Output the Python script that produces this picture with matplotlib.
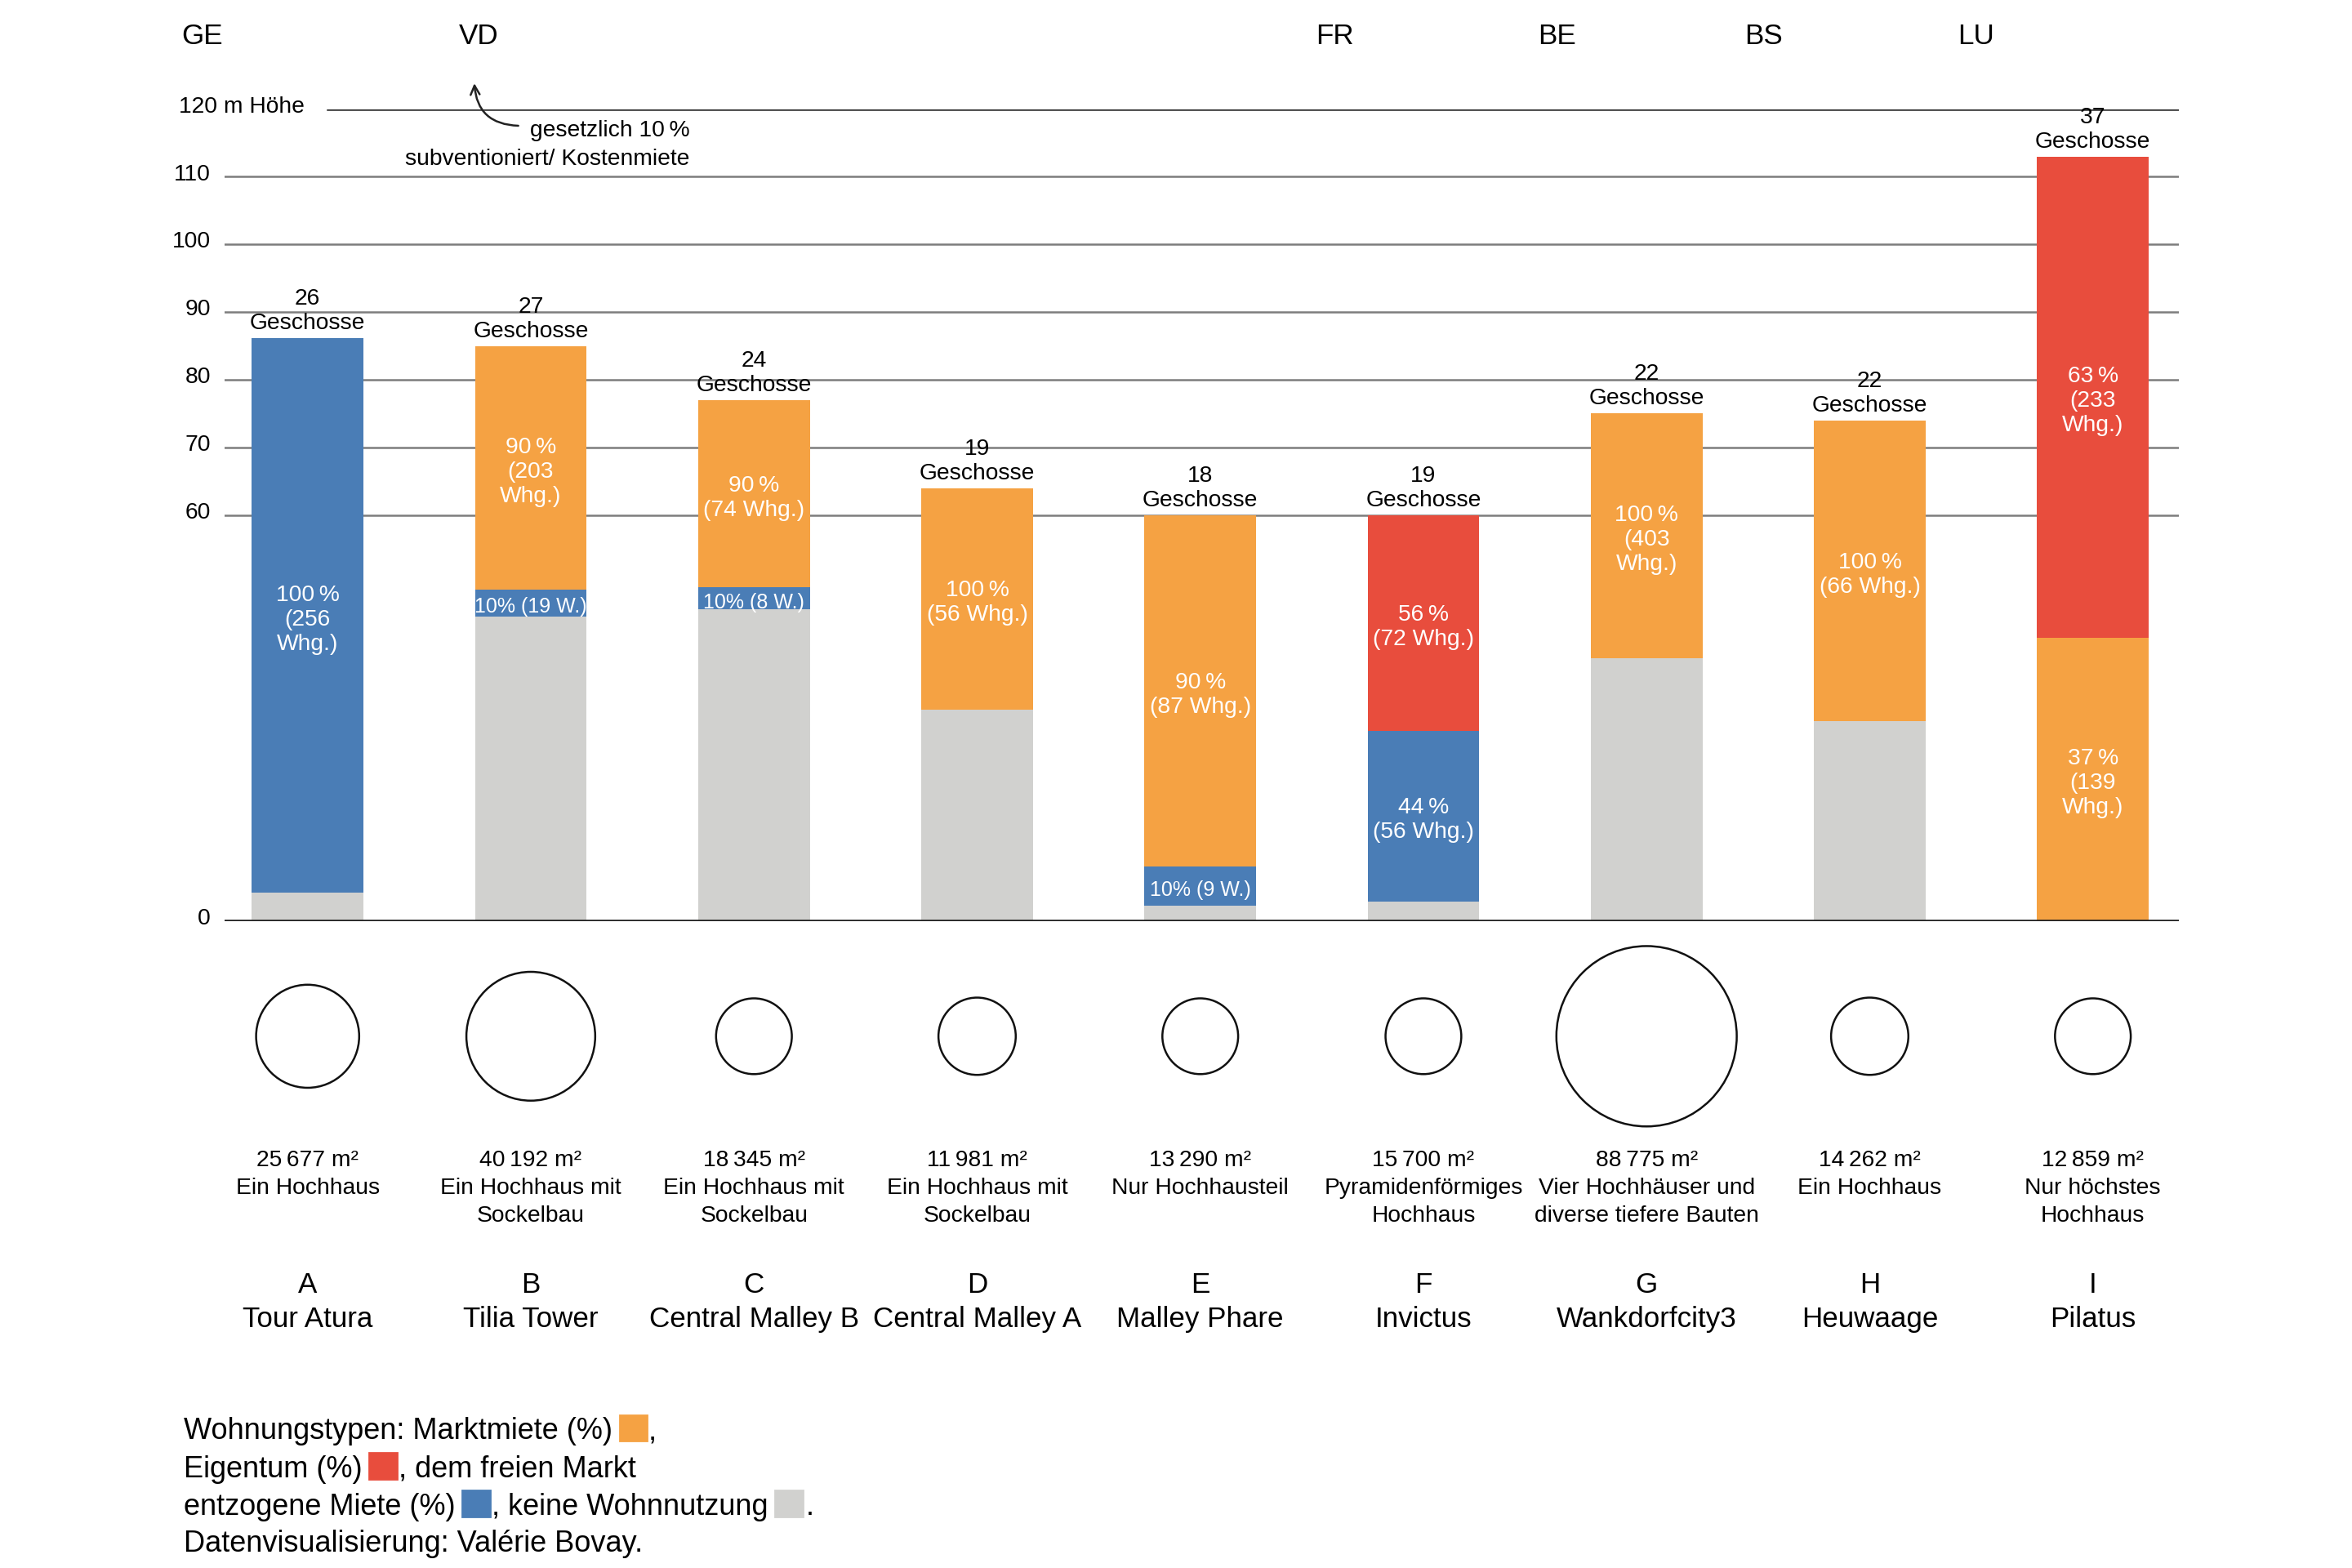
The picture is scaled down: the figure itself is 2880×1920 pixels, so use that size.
import numpy as np
import matplotlib
matplotlib.use("Agg")
import matplotlib.pyplot as plt
from matplotlib import font_manager
from matplotlib.patches import Rectangle
from matplotlib.transforms import blended_transform_factory

plt.rcParams['font.family'] = ['Liberation Sans', 'DejaVu Sans']

# --- data ---
codes = ["A", "B", "C", "D", "E", "F", "G", "H", "I"]
names = ["Tour Atura", "Tilia Tower", "Central Malley B", "Central Malley A",
         "Malley Phare", "Invictus", "Wankdorfcity3", "Heuwaage", "Pilatus"]
geschosse = [26, 27, 24, 19, 18, 19, 22, 22, 37]
flaeche = [25677, 40192, 18345, 11981, 13290, 15700, 88775, 14262, 12859]
beschrieb = ["Ein Hochhaus", "Ein Hochhaus mit\nSockelbau", "Ein Hochhaus mit\nSockelbau",
             "Ein Hochhaus mit\nSockelbau", "Nur Hochhausteil", "Pyramidenförmiges\nHochhaus",
             "Vier Hochhäuser und\ndiverse tiefere Bauten", "Ein Hochhaus", "Nur höchstes\nHochhaus"]
# relative circle diameters as drawn
kreis = [68, 85, 50, 51, 50, 50, 119, 51, 50]

# stacked heights in m: keine Wohnnutzung, entzogene Miete, Marktmiete, Eigentum
grau = [4.2, 45.0, 46.1, 31.3, 2.3, 2.9, 38.9, 29.5, 0]
blau = [81.9, 4.0, 3.2, 0, 5.8, 25.2, 0, 0, 0]
orange = [0, 36.0, 27.7, 32.7, 51.9, 0, 36.1, 44.5, 41.9]
rot = [0, 0, 0, 0, 0, 31.9, 0, 0, 71.1]

blau_lbl = ["100\u2009%\n(256\nWhg.)", "10% (19 W.)", "10% (8 W.)", None, "10% (9 W.)",
            "44\u2009%\n(56 Whg.)", None, None, None]
orange_lbl = [None, "90\u2009%\n(203\nWhg.)", "90\u2009%\n(74 Whg.)", "100\u2009%\n(56 Whg.)",
              "90\u2009%\n(87 Whg.)", None, "100\u2009%\n(403\nWhg.)", "100\u2009%\n(66 Whg.)",
              "37\u2009%\n(139\nWhg.)"]
rot_lbl = [None, None, None, None, None, "56\u2009%\n(72 Whg.)", None, None, "63\u2009%\n(233\nWhg.)"]

kantone = ["GE", "VD", "FR", "BE", "BS", "LU"]
yticks = [0, 60, 70, 80, 90, 100, 110]

C_GRAU = '#D1D1CF'
C_BLAU = '#4A7DB6'
C_ORANGE = '#F5A243'
C_ROT = '#E84D3D'

# narrow face for the tight one-line labels, if there is one
have_narrow = any(f.name == 'Liberation Sans Narrow' for f in font_manager.fontManager.ttflist)
NARROW = ['Liberation Sans Narrow', 'Liberation Sans', 'DejaVu Sans'] if have_narrow \
    else ['Liberation Sans', 'DejaVu Sans']

# layout helpers (reference frame 1552 x 1035)
W, H = 1552.0, 1035.0
def fx(x):
    return x / W
def fy(y):
    return 1 - y / H

fig = plt.figure(figsize=(14.4, 9.6), dpi=200)
ax = fig.add_axes([fx(148), fy(608), fx(1438) - fx(148), fy(72) - fy(608)])
ax.set_xlim(-0.3735, 8.387)
ax.set_ylim(0, 120)
ax.axis('off')

x = np.arange(len(codes))
SMALL = 10.2
BIG = 12.6

# gridlines
for t in yticks[1:]:
    ax.axhline(t, color='#7d7d7d', lw=0.9, zorder=0)
ax.axhline(120, xmin=(216 - 148) / (1438 - 148), color='#2a2a2a', lw=0.9, zorder=0)
ax.axhline(0, color='#222222', lw=1.3, zorder=4)

ytrans = blended_transform_factory(fig.transFigure, ax.transData)
for t in yticks:
    ax.annotate(str(t), (fx(139), t), xycoords=ytrans, xytext=(0, -1.5),
                textcoords='offset points', ha='right', va='baseline', fontsize=SMALL)
ax.annotate("120 m Höhe", (fx(118), 120), xycoords=ytrans, xytext=(0, -1.5),
            textcoords='offset points', ha='left', va='baseline', fontsize=SMALL)

# stacked bars
bw = 0.5
bottom = np.zeros(len(codes))
for vals, col, lbls in [(grau, C_GRAU, None), (blau, C_BLAU, blau_lbl),
                        (orange, C_ORANGE, orange_lbl), (rot, C_ROT, rot_lbl)]:
    vals = np.array(vals, dtype=float)
    ax.bar(x, vals, bw, bottom=bottom, color=col, zorder=2, linewidth=0)
    if lbls is not None:
        for i, lab in enumerate(lbls):
            if lab and vals[i] > 0:
                one_line = "\n" not in lab
                ax.text(x[i], bottom[i] + vals[i] / 2 - 0.6, lab, ha='center', va='center',
                        color='white', linespacing=1.2, zorder=5,
                        family=NARROW if one_line else None,
                        fontsize=(SMALL if have_narrow else 9.0) if one_line else SMALL)
    bottom += vals

for i, g in enumerate(geschosse):
    ax.annotate(f"{g}\nGeschosse", (x[i], bottom[i]), xytext=(0, 1.8),
                textcoords='offset points', ha='center', va='bottom',
                fontsize=SMALL, linespacing=1.2, zorder=5)

# canton labels
for k, xp in zip(kantone, [120, 303, 868, 1015, 1151, 1292]):
    fig.text(fx(xp), fy(24), k, ha='left', va='center', fontsize=BIG)

# annotation for the 10 % rule
ax.annotate("", xy=(fx(313), fy(55)), xycoords='figure fraction',
            xytext=(fx(342), fy(83)), textcoords='figure fraction',
            arrowprops=dict(arrowstyle='->', lw=0.9, color='#222222',
                            connectionstyle='arc3,rad=-0.45', shrinkA=0, shrinkB=0))
fig.text(fx(455), fy(86), "gesetzlich 10\u2009%", ha='right', va='center', fontsize=SMALL)
fig.text(fx(455), fy(105), "subventioniert/ Kostenmiete", ha='right', va='center', fontsize=SMALL)

# circles and texts below
btrans = blended_transform_factory(ax.transData, fig.transFigure)
pt_per_ref = (2880 / W) * 72 / 200
sizes = [(d * pt_per_ref) ** 2 for d in kreis]
ax.scatter(x, [fy(684)] * len(x), s=sizes, transform=btrans, facecolor='white',
           edgecolor='#111111', linewidth=0.9, clip_on=False, zorder=3)

for i in range(len(codes)):
    area = f"{flaeche[i]:,}".replace(",", "\u2009") + " m²"
    ax.text(x[i], fy(766), area, transform=btrans, ha='center', va='center', fontsize=SMALL)
    ax.text(x[i], fy(777.5), beschrieb[i], transform=btrans, ha='center', va='top',
            fontsize=SMALL, linespacing=1.38)
    ax.text(x[i], fy(848), codes[i], transform=btrans, ha='center', va='center', fontsize=BIG)
    ax.text(x[i], fy(871), names[i], transform=btrans, ha='center', va='center', fontsize=BIG)

# legend as running text with colour squares
renderer = fig.canvas.get_renderer()
LEG = 13
def rich_line(parts, y):
    xx = fx(121)
    for p in parts:
        if p[0] == 'txt':
            t = fig.text(xx, fy(y), p[1], ha='left', va='baseline', fontsize=LEG)
            bb = t.get_window_extent(renderer)
            xx += bb.width / fig.bbox.width
        elif p[0] == 'gap':
            xx += fx(p[1])
        else:
            fig.patches.append(Rectangle((xx, fy(y + 1)), fx(18), fy(0) - fy(17),
                                         transform=fig.transFigure, color=p[1]))
            xx += fx(18)

rich_line([('txt', "Wohnungstypen: Marktmiete (%)"), ('gap', 5), ('box', C_ORANGE),
           ('gap', 1), ('txt', ",")], 950)
rich_line([('txt', "Eigentum (%)"), ('gap', 5), ('box', C_ROT), ('gap', 1),
           ('txt', ", dem freien Markt")], 975)
rich_line([('txt', "entzogene Miete (%)"), ('gap', 5), ('box', C_BLAU), ('gap', 1),
           ('txt', ", keine Wohnnutzung"), ('gap', 5), ('box', C_GRAU), ('gap', 2),
           ('txt', ".")], 1000)
rich_line([('txt', "Datenvisualisierung: Valérie Bovay.")], 1024)

fig.savefig("out.png", dpi=200, facecolor='white')
